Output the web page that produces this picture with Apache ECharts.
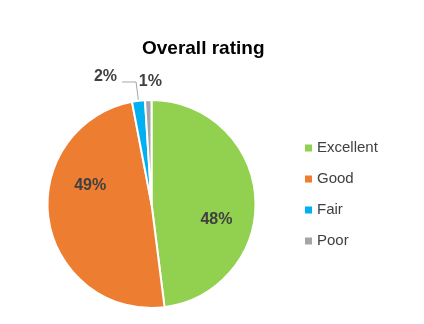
<!DOCTYPE html>
<html><head><meta charset="utf-8">
<script src="https://cdn.jsdelivr.net/npm/echarts@6/dist/echarts.min.js"></script>
<style>html,body{margin:0;padding:0;background:#fff}#c{width:424px;height:324px}</style>
</head><body><div id="c"></div>
<script>
const categories = ['Excellent', 'Good', 'Fair', 'Poor'];
const values = [48, 49, 2, 1];
const colors = ['#92D050', '#ED7D31', '#00B0F0', '#A5A5A5'];
const titleText = 'Overall rating';

const font = 'Liberation Sans, Arial, sans-serif';
const labelCfg = [
  { position: 'inside', offset: [10, 19] },
  { position: 'inside', offset: [-7, -27] },
  { position: 'outside', offset: [0, -5] },
  { position: 'outside', offset: [19, -8] }
];
const lineCfg = [
  { show: false },
  { show: false },
  { show: true, length: 19, length2: 14, lineStyle: { color: '#A6A6A6', width: 1 } },
  { show: false, length: 10, length2: 0 }
];

const data = categories.map((name, i) => ({
  name, value: values[i],
  itemStyle: { color: colors[i] },
  label: labelCfg[i],
  labelLine: lineCfg[i]
}));

const chart = echarts.init(document.getElementById('c'), null, { renderer: 'canvas' });
chart.setOption({
  animation: false,
  backgroundColor: '#fff',
  title: {
    text: titleText, left: 137, top: 34,
    textStyle: { fontFamily: font, fontSize: 19, fontWeight: 'bold', color: '#000' }
  },
  legend: {
    orient: 'vertical', left: 300, top: 135,
    icon: 'rect', itemWidth: 7, itemHeight: 7, itemGap: 15,
    itemStyle: { borderWidth: 0 },
    textStyle: { fontFamily: font, fontSize: 15, color: '#404040', lineHeight: 16 },
    data: categories
  },
  series: [{
    type: 'pie',
    center: [151.5, 204],
    radius: 104,
    startAngle: 90,
    clockwise: true,
    avoidLabelOverlap: false,
    itemStyle: { borderColor: '#fff', borderWidth: 2 },
    label: {
      formatter: '{c}%', fontFamily: font, fontSize: 16, fontWeight: 'bold', color: '#404040'
    },
    data
  }]
});
</script></body></html>
